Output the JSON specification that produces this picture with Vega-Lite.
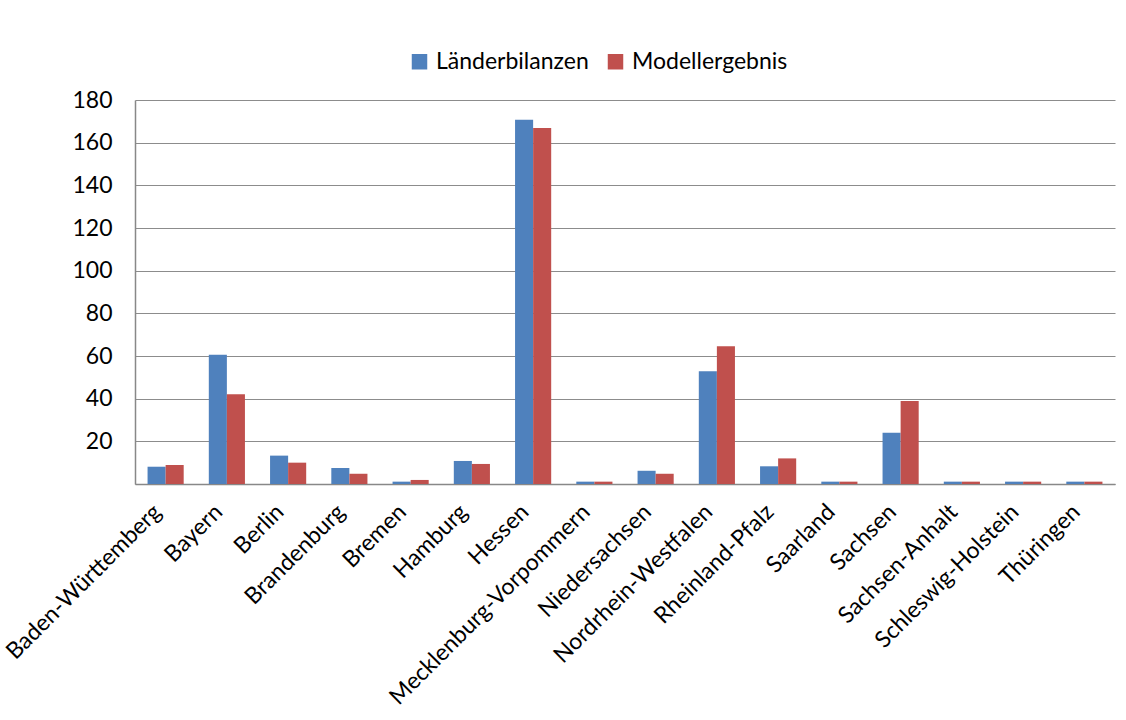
{
  "$schema": "https://vega.github.io/schema/vega-lite/v6.json",
  "width": 980,
  "height": 384,
  "autosize": {"type": "none"},
  "padding": {"left": 135, "top": 100, "right": 11, "bottom": 236},
  "background": "white",
  "data": {
    "values": [
      {"land": "Baden-Württemberg", "reihe": "Länderbilanzen", "wert": 8.1},
      {"land": "Baden-Württemberg", "reihe": "Modellergebnis", "wert": 8.9},
      {"land": "Bayern", "reihe": "Länderbilanzen", "wert": 60.6},
      {"land": "Bayern", "reihe": "Modellergebnis", "wert": 42.1},
      {"land": "Berlin", "reihe": "Länderbilanzen", "wert": 13.3},
      {"land": "Berlin", "reihe": "Modellergebnis", "wert": 10.0},
      {"land": "Brandenburg", "reihe": "Länderbilanzen", "wert": 7.5},
      {"land": "Brandenburg", "reihe": "Modellergebnis", "wert": 4.8},
      {"land": "Bremen", "reihe": "Länderbilanzen", "wert": 1.1},
      {"land": "Bremen", "reihe": "Modellergebnis", "wert": 1.9},
      {"land": "Hamburg", "reihe": "Länderbilanzen", "wert": 10.8},
      {"land": "Hamburg", "reihe": "Modellergebnis", "wert": 9.4},
      {"land": "Hessen", "reihe": "Länderbilanzen", "wert": 170.8},
      {"land": "Hessen", "reihe": "Modellergebnis", "wert": 166.9},
      {"land": "Mecklenburg-Vorpommern", "reihe": "Länderbilanzen", "wert": 1.1},
      {"land": "Mecklenburg-Vorpommern", "reihe": "Modellergebnis", "wert": 1.1},
      {"land": "Niedersachsen", "reihe": "Länderbilanzen", "wert": 6.2},
      {"land": "Niedersachsen", "reihe": "Modellergebnis", "wert": 4.8},
      {"land": "Nordrhein-Westfalen", "reihe": "Länderbilanzen", "wert": 52.9},
      {"land": "Nordrhein-Westfalen", "reihe": "Modellergebnis", "wert": 64.6},
      {"land": "Rheinland-Pfalz", "reihe": "Länderbilanzen", "wert": 8.3},
      {"land": "Rheinland-Pfalz", "reihe": "Modellergebnis", "wert": 12.0},
      {"land": "Saarland", "reihe": "Länderbilanzen", "wert": 1.1},
      {"land": "Saarland", "reihe": "Modellergebnis", "wert": 1.1},
      {"land": "Sachsen", "reihe": "Länderbilanzen", "wert": 24.0},
      {"land": "Sachsen", "reihe": "Modellergebnis", "wert": 38.9},
      {"land": "Sachsen-Anhalt", "reihe": "Länderbilanzen", "wert": 1.1},
      {"land": "Sachsen-Anhalt", "reihe": "Modellergebnis", "wert": 1.1},
      {"land": "Schleswig-Holstein", "reihe": "Länderbilanzen", "wert": 1.1},
      {"land": "Schleswig-Holstein", "reihe": "Modellergebnis", "wert": 1.1},
      {"land": "Thüringen", "reihe": "Länderbilanzen", "wert": 1.1},
      {"land": "Thüringen", "reihe": "Modellergebnis", "wert": 1.1}
    ]
  },
  "mark": {"type": "bar"},
  "encoding": {
    "x": {
      "field": "land",
      "type": "nominal",
      "sort": null,
      "title": null,
      "scale": {"paddingInner": 0.41, "paddingOuter": 0.205},
      "axis": {
        "labelAngle": -45,
        "labelAlign": "right",
        "labelBaseline": "middle",
        "labelPadding": 24,
        "labelOffset": -8,
        "labelFont": "Lato",
        "labelFontSize": 23,
        "labelColor": "#000000",
        "ticks": false,
        "domainColor": "#888888",
        "domainWidth": 1.5,
        "labelLimit": 400
      }
    },
    "xOffset": {"field": "reihe", "type": "nominal"},
    "y": {
      "field": "wert",
      "type": "quantitative",
      "title": null,
      "scale": {"domain": [0, 180], "nice": false},
      "axis": {
        "values": [0, 20, 40, 60, 80, 100, 120, 140, 160, 180],
        "labelExpr": "datum.value == 0 ? '' : datum.label",
        "labelFont": "Lato",
        "labelFontSize": 23,
        "labelColor": "#000000",
        "labelPadding": 23,
        "ticks": false,
        "domainColor": "#888888",
        "domainWidth": 1.5,
        "grid": true,
        "gridColor": "#8c8c8c",
        "gridWidth": 1.2
      }
    },
    "color": {
      "field": "reihe",
      "type": "nominal",
      "scale": {"domain": ["Länderbilanzen", "Modellergebnis"], "range": ["#4F81BD", "#C0504D"]},
      "legend": {
        "title": null,
        "orient": "none",
        "direction": "horizontal",
        "legendX": 273,
        "legendY": -50,
        "symbolType": "square",
        "symbolSize": 240,
        "symbolStrokeWidth": 0,
        "symbolOpacity": 1,
        "labelFont": "Lato",
        "labelFontSize": 23,
        "labelColor": "#000000",
        "labelOffset": 5,
        "columnPadding": 15
      }
    }
  },
  "config": {
    "view": {"stroke": null}
  }
}
